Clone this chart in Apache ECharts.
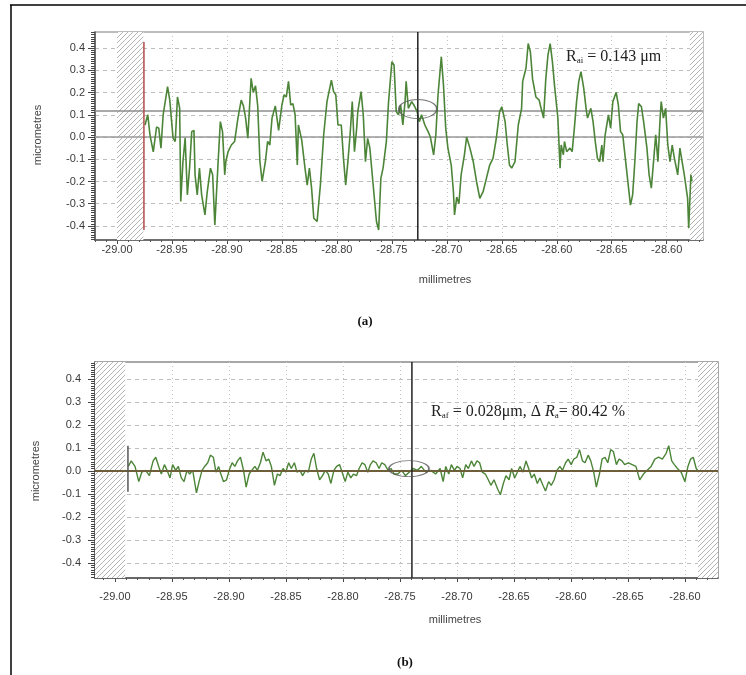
<!DOCTYPE html>
<html><head><meta charset="utf-8">
<script src="https://cdn.jsdelivr.net/npm/echarts/dist/echarts.min.js"></script>
<style>html,body{margin:0;padding:0;background:#fff}#c{width:746px;height:675px}</style>
</head><body><div id="c"></div>
<script>
// ---------- data ----------
const xTickValues = [-29.00, -28.95, -28.90, -28.85, -28.80, -28.75, -28.70, -28.65, -28.60, -28.55, -28.50];
const xTickLabels = ["-29.00","-28.95","-28.90","-28.85","-28.80","-28.75","-28.70","-28.65","-28.60","-28.65","-28.60"];
const yTickValues = [-0.4, -0.3, -0.2, -0.1, 0.0, 0.1, 0.2, 0.3, 0.4];
const yTickLabels = ["-0.4","-0.3","-0.2","-0.1","0.0","0.1","0.2","0.3","0.4"];

const rangeAx = [-29.02, -28.467];
const rangeAy = [-0.463, 0.472];
const rangeBx = [-29.0175, -28.471];
const rangeBy = [-0.465, 0.474];

const hatchA = [[-29.00, -28.976], [-28.479, -28.467]];
const hatchB = [[-29.0175, -28.991], [-28.4886, -28.471]];

// profile (a): [mm, micrometres]
const profileA = [
[-28.9745,0.054],[-28.972,0.10],[-28.970,0.01],[-28.967,-0.067],[-28.964,0.045],[-28.962,0.04],[-28.960,-0.05],[-28.958,0.10],[-28.954,0.226],[-28.952,0.166],
[-28.949,-0.005],[-28.947,-0.02],[-28.945,0.18],[-28.943,0.13],[-28.942,-0.29],[-28.940,-0.11],[-28.938,-0.005],[-28.936,-0.26],[-28.934,-0.14],[-28.932,0.024],
[-28.930,0.03],[-28.929,-0.17],[-28.927,-0.26],[-28.925,-0.14],[-28.923,-0.26],[-28.920,-0.35],[-28.918,-0.25],[-28.915,-0.14],[-28.913,-0.17],[-28.911,-0.395],
[-28.908,-0.11],[-28.906,0.069],[-28.904,0.024],[-28.902,-0.17],[-28.901,-0.11],[-28.899,-0.067],[-28.896,-0.036],[-28.893,-0.02],[-28.890,0.085],[-28.887,0.166],
[-28.885,0.14],[-28.883,0.085],[-28.881,-0.005],[-28.878,0.264],[-28.876,0.20],[-28.874,0.23],[-28.872,0.14],[-28.870,-0.11],[-28.868,-0.20],[-28.865,-0.11],
[-28.863,-0.02],[-28.861,-0.036],[-28.859,0.085],[-28.856,0.14],[-28.853,0.03],
[-28.850,0.144],[-28.848,0.19],[-28.846,0.18],[-28.844,0.25],[-28.842,0.144],[-28.840,0.15],[-28.838,0.10],[-28.836,-0.126],[-28.835,0.054],[-28.832,-0.013],
[-28.829,-0.14],[-28.827,-0.216],[-28.825,-0.14],[-28.823,-0.23],[-28.821,-0.365],[-28.818,-0.38],[-28.815,-0.216],[-28.812,0.01],[-28.809,0.159],[-28.805,0.256],
[-28.803,0.204],[-28.801,0.19],[-28.799,0.054],[-28.796,0.054],[-28.794,-0.096],[-28.792,-0.216],[-28.790,-0.111],[-28.788,0.01],[-28.786,0.159],[-28.784,-0.066],
[-28.782,0.039],[-28.781,0.114],[-28.778,0.204],[-28.776,0.10],[-28.774,-0.111],[-28.772,-0.006],[-28.770,-0.05],[-28.767,-0.216],[-28.764,-0.38],[-28.762,-0.418],
[-28.760,-0.186],[-28.758,-0.14],[-28.755,-0.021],[-28.753,0.159],[-28.750,0.338],[-28.748,0.324],[-28.746,0.114],[-28.744,0.10],[-28.742,0.144],[-28.740,0.054],
[-28.738,0.159],[-28.737,0.25],[-28.735,0.129],[-28.732,0.159],[-28.730,0.144],[-28.727,0.114],[-28.725,0.069],
[-28.723,0.10],[-28.720,0.054],[-28.717,0.024],[-28.715,0.0],[-28.712,-0.08],[-28.710,0.01],[-28.708,0.19],[-28.705,0.361],[-28.703,0.23],[-28.701,0.04],
[-28.699,-0.05],[-28.696,-0.126],[-28.694,-0.246],[-28.693,-0.35],[-28.691,-0.27],[-28.689,-0.30],[-28.687,-0.17],[-28.684,-0.08],[-28.682,0.0],[-28.679,-0.05],
[-28.676,-0.11],[-28.673,-0.20],[-28.670,-0.276],[-28.667,-0.246],[-28.664,-0.186],[-28.661,-0.126],[-28.658,-0.096],[-28.655,-0.006],[-28.652,0.114],[-28.650,0.136],
[-28.647,0.069],[-28.645,-0.036],[-28.643,-0.126],[-28.641,-0.14],[-28.638,-0.111],[-28.635,0.054],[-28.632,0.129],[-28.631,0.25],[-28.628,0.309],[-28.626,0.42],
[-28.624,0.383],[-28.622,0.26],[-28.619,0.18],[-28.616,0.166],[-28.615,0.144],[-28.612,0.085],[-28.610,0.26],[-28.608,0.369],[-28.606,0.42],[-28.604,0.34],
[-28.602,0.23],[-28.599,0.085],[-28.597,-0.14],
[-28.596,-0.036],[-28.594,-0.08],[-28.593,-0.02],[-28.591,-0.066],[-28.588,-0.05],[-28.586,-0.066],[-28.584,0.04],[-28.582,0.159],[-28.580,0.25],[-28.578,0.294],
[-28.5755,0.22],[-28.573,0.114],[-28.572,0.085],[-28.569,0.129],[-28.567,0.069],[-28.565,-0.02],[-28.563,-0.096],[-28.561,-0.111],[-28.559,-0.036],[-28.558,-0.111],
[-28.556,0.01],[-28.553,0.10],[-28.551,0.04],[-28.549,0.159],[-28.546,0.20],[-28.544,0.144],[-28.542,0.024],[-28.540,0.01],[-28.538,-0.08],[-28.535,-0.216],
[-28.533,-0.306],[-28.531,-0.26],[-28.529,-0.111],[-28.527,0.069],[-28.5255,0.15],[-28.523,0.136],[-28.521,0.069],[-28.518,-0.05],[-28.516,-0.17],[-28.514,-0.23],
[-28.512,-0.111],[-28.510,0.01],[-28.508,-0.111],[-28.506,0.085],[-28.505,0.159],[-28.503,0.085],[-28.501,0.129],[-28.499,-0.036],[-28.497,-0.111],[-28.495,-0.036],
[-28.493,-0.096],[-28.490,-0.17],[-28.488,-0.05],[-28.486,-0.111],[-28.484,-0.17],[-28.481,-0.276],[-28.480,-0.41],[-28.478,-0.17],[-28.477,-0.20]
];

// profile (b): [mm, micrometres]
const profileB = [
[-28.9883,0.02],[-28.9857,0.044],[-28.9824,0.02],[-28.9791,-0.046],[-28.9765,-0.005],[-28.9731,0.003],[-28.9698,-0.02],[-28.9665,0.044],[-28.9642,0.06],[-28.9616,0.02],
[-28.9593,-0.013],[-28.9566,0.028],[-28.9543,0.003],[-28.9517,-0.03],[-28.9494,0.028],[-28.9467,0.003],[-28.9444,0.02],[-28.9418,-0.03],[-28.9394,-0.046],[-28.9368,0.003],
[-28.9345,-0.013],[-28.9318,0.003],[-28.9285,-0.095],[-28.9262,-0.046],[-28.9236,0.003],[-28.9213,0.02],[-28.9186,0.036],[-28.9163,0.069],[-28.9137,0.06],[-28.9114,-0.005],
[-28.9091,0.02],[-28.9071,-0.013],[-28.9048,-0.046],[-28.9021,-0.038],[-28.8998,0.003],[-28.8972,0.036],[-28.8948,0.02],[-28.8925,0.044],[-28.8899,0.06],[-28.8872,0.003],
[-28.8849,-0.07],[-28.8823,-0.013],[-28.8800,0.003],[-28.8773,0.02],[-28.8750,0.003],[-28.8724,0.036],[-28.8701,0.082],[-28.8674,0.044],[-28.8651,0.052],[-28.8628,0.02],
[-28.8601,-0.062],[-28.8575,-0.013],[-28.8552,-0.02],[-28.8526,0.011],[-28.8502,-0.005],[-28.8476,0.036],[-28.8453,0.011],[-28.8426,0.036],[-28.8403,-0.005],[-28.8377,0.003],
[-28.8354,-0.02],[-28.8327,0.003],[-28.8304,-0.005],[-28.8278,0.052],[-28.8255,0.077],[-28.8231,0.011],[-28.8205,-0.038],[-28.8179,-0.02],[-28.8155,0.003],[-28.8129,-0.013],
[-28.8106,-0.054],[-28.8079,0.003],[-28.8056,0.02],[-28.8030,0.028],[-28.8007,-0.005],[-28.7980,-0.046],[-28.7957,-0.005],[-28.7931,-0.03],[-28.7908,-0.013],[-28.7881,-0.02],
[-28.7858,0.011],[-28.7832,0.036],[-28.7808,0.028],[-28.7782,-0.005],[-28.7759,0.028],[-28.7736,0.044],[-28.7709,0.036],[-28.7683,0.011],[-28.7660,0.036],[-28.7633,0.028],
[-28.7604,0.003],[-28.7577,0.011],[-28.7551,-0.013],[-28.7518,-0.013],[-28.7485,0.003],[-28.7452,-0.02],[-28.7419,-0.005],[-28.7386,0.011],[-28.7346,0.003],[-28.7313,0.02],
[-28.7273,-0.005],[-28.7230,0.003],[-28.7187,-0.013],[-28.7148,0.011],[-28.7121,-0.046],[-28.7098,0.02],[-28.7072,-0.013],[-28.7049,0.028],[-28.7022,0.003],[-28.6999,0.02],
[-28.6973,0.011],[-28.6950,-0.03],[-28.6923,0.028],[-28.6900,0.011],[-28.6873,0.044],[-28.6850,0.02],[-28.6824,0.044],[-28.6801,0.036],[-28.6778,-0.005],[-28.6751,-0.013],
[-28.6725,-0.038],[-28.6702,-0.062],[-28.6675,-0.038],[-28.6642,-0.079],[-28.6619,-0.103],[-28.6593,-0.054],[-28.6570,-0.02],[-28.6543,-0.038],[-28.6520,0.011],[-28.6494,-0.03],
[-28.6470,-0.005],[-28.6447,0.02],[-28.6421,-0.005],[-28.6394,0.044],[-28.6371,0.011],[-28.6345,-0.03],[-28.6322,-0.013],[-28.6295,-0.054],[-28.6272,-0.03],[-28.6246,-0.062],
[-28.6223,-0.087],[-28.6196,-0.046],[-28.6173,-0.062],[-28.6147,-0.038],[-28.6123,0.003],[-28.6097,0.02],[-28.6074,0.003],[-28.6047,0.036],[-28.6024,0.052],[-28.5998,0.028],
[-28.5975,0.052],[-28.5948,0.06],[-28.5925,0.093],[-28.5899,0.044],[-28.5876,0.036],[-28.5849,0.069],[-28.5826,0.044],[-28.5800,-0.005],[-28.5777,-0.07],[-28.5750,-0.013],
[-28.5727,0.052],[-28.5701,0.06],[-28.5677,0.036],[-28.5651,0.093],[-28.5628,0.085],[-28.5601,0.028],[-28.5578,0.052],[-28.5552,0.044],[-28.5529,0.028],[-28.5496,0.036],
[-28.5463,0.028],[-28.5430,0.02],[-28.5397,-0.038],[-28.5364,-0.013],[-28.5331,0.003],[-28.5297,0.02],[-28.5264,0.052],[-28.5231,0.06],[-28.5198,0.052],[-28.5165,0.077],
[-28.5142,0.11],[-28.5116,0.044],[-28.5093,0.028],[-28.5066,0.011],[-28.5033,-0.005],[-28.5000,-0.046],[-28.4974,0.02],[-28.4950,0.052],[-28.4927,0.06],[-28.4901,0.011],
[-28.4875,-0.005]
];

// reference / cursor lines
const meanLineA = 0.117;
const zeroLine = 0.0;
const startMarkA = [-28.9755, -0.418, 0.427];
const cursorA = -28.7264;
const cursorB = -28.7395;
const startMarkB = [-28.9886, -0.09, 0.11];
const ellipseA = [-28.7264, 0.126];
const ellipseB = [-28.7421, 0.01];

// ---------- helpers ----------
function hatchPattern() {
  const s = 5;
  const c = document.createElement('canvas');
  c.width = s; c.height = s;
  const g = c.getContext('2d');
  g.fillStyle = '#ffffff'; g.fillRect(0, 0, s, s);
  g.strokeStyle = '#b4b4b4'; g.lineWidth = 1;
  g.beginPath();
  g.moveTo(0, s); g.lineTo(s, 0);
  g.moveTo(-1, 1); g.lineTo(1, -1);
  g.moveTo(s - 1, s + 1); g.lineTo(s + 1, s - 1);
  g.stroke();
  return c;
}
const pattern = { image: hatchPattern(), repeat: 'repeat' };

const fmtX = v => { const i = xTickValues.findIndex(t => Math.abs(t - v) < 1e-6); return i >= 0 ? xTickLabels[i] : ''; };
const fmtY = v => { const i = yTickValues.findIndex(t => Math.abs(t - v) < 1e-6); return i >= 0 ? yTickLabels[i] : ''; };

function range(a, b, step) { const r = []; for (let i = Math.round(a / step); i <= Math.round(b / step); i++) r.push(+(i * step).toFixed(4)); return r; }
const minorXA = range(-29.02, -28.47, 0.01);
const minorXB = range(-29.01, -28.48, 0.01);
const minorY = range(-0.46, 0.47, 0.01);

const FONT = 'Liberation Sans, Arial, sans-serif';
const SERIF = 'Liberation Serif, Times New Roman, serif';

function mainX(grid, r, margin) {
  return { type: 'value', gridIndex: grid, min: r[0], max: r[1], position: 'bottom',
    axisLine: { show: true, onZero: false, lineStyle: { color: '#555', width: 1.5 } },
    axisTick: { show: true, customValues: xTickValues, length: 4, lineStyle: { color: '#444' } },
    axisLabel: { customValues: xTickValues, formatter: fmtX, margin: margin, color: '#3a3a3a', fontSize: 11, fontFamily: FONT },
    splitLine: { show: true, lineStyle: { color: '#c4c4c4', type: [1, 3], width: 1 } } };
}
function mainY(grid, r, margin) {
  return { type: 'value', gridIndex: grid, min: r[0], max: r[1], position: 'left',
    axisLine: { show: true, onZero: false, lineStyle: { color: '#555', width: 1.5 } },
    axisTick: { show: true, customValues: yTickValues, length: 7, lineStyle: { color: '#444' } },
    axisLabel: { customValues: yTickValues, formatter: fmtY, margin: margin, color: '#3a3a3a', fontSize: 11, fontFamily: FONT },
    splitLine: { show: true, lineStyle: { color: '#bdbdbd', type: [4, 4], width: 1 } } };
}
function minorXAxis(grid, r, vals) {
  return { type: 'value', gridIndex: grid, min: r[0], max: r[1], position: 'bottom',
    axisLine: { show: false, onZero: false }, axisLabel: { show: false }, splitLine: { show: false },
    axisTick: { show: true, customValues: vals, length: 2, lineStyle: { color: '#555' } } };
}
function minorYAxis(grid, r, vals) {
  return { type: 'value', gridIndex: grid, min: r[0], max: r[1], position: 'left',
    axisLine: { show: false, onZero: false }, axisLabel: { show: false }, splitLine: { show: false },
    axisTick: { show: true, customValues: vals, length: 4, lineStyle: { color: '#444' } } };
}

function seg(xi, yi, pts, color, width, z) {
  return { type: 'line', xAxisIndex: xi, yAxisIndex: yi, data: pts, symbol: 'none', silent: true,
    lineStyle: { color: color, width: width }, z: z || 4, animation: false };
}

const gridA = { left: 95, top: 32, width: 608, height: 208 };
const gridB = { left: 95, top: 362, width: 623, height: 216 };

const option = {
  animation: false,
  backgroundColor: '#fff',
  grid: [
    Object.assign({ show: true, borderColor: '#a8a8a8', borderWidth: 1.5, backgroundColor: 'transparent' }, gridA),
    Object.assign({ show: true, borderColor: '#8a8a8a', borderWidth: 1.5, backgroundColor: 'transparent' }, gridB),
    Object.assign({}, gridA),
    Object.assign({}, gridB)
  ],
  xAxis: [ mainX(0, rangeAx, 4), mainX(1, rangeBx, 13), minorXAxis(2, rangeAx, minorXA), minorXAxis(3, rangeBx, minorXB) ],
  yAxis: [ mainY(0, rangeAy, 10), mainY(1, rangeBy, 14), minorYAxis(2, rangeAy, minorY), minorYAxis(3, rangeBy, minorY) ],
  series: [
    { type: 'line', xAxisIndex: 0, yAxisIndex: 0, data: profileA, symbol: 'none', silent: true, z: 5,
      lineStyle: { color: '#4c8538', width: 1.6 },
      markArea: { silent: true, itemStyle: { color: pattern, borderWidth: 0 },
        data: hatchA.map(h => [{ xAxis: h[0] }, { xAxis: h[1] }]) } },
    seg(0, 0, [[rangeAx[0], meanLineA], [rangeAx[1], meanLineA]], '#8c8c8c', 1.5, 3),
    seg(0, 0, [[rangeAx[0], zeroLine], [rangeAx[1], zeroLine]], '#9a9a9a', 1.5, 3),
    seg(0, 0, [[startMarkA[0], startMarkA[1]], [startMarkA[0], startMarkA[2]]], '#b24a4a', 1.5, 6),
    seg(0, 0, [[cursorA, rangeAy[0]], [cursorA, rangeAy[1]]], '#222', 1.5, 6),
    { type: 'scatter', xAxisIndex: 0, yAxisIndex: 0, data: [ellipseA], symbol: 'circle', symbolSize: [38, 19], silent: true, z: 7,
      itemStyle: { color: 'rgba(0,0,0,0)', borderColor: '#555', borderWidth: 1.2 } },

    { type: 'line', xAxisIndex: 1, yAxisIndex: 1, data: profileB, symbol: 'none', silent: true, z: 5,
      lineStyle: { color: '#4c8538', width: 1.4 },
      markArea: { silent: true, itemStyle: { color: pattern, borderWidth: 0 },
        data: hatchB.map(h => [{ xAxis: h[0] }, { xAxis: h[1] }]) } },
    seg(1, 1, [[rangeBx[0], zeroLine], [rangeBx[1], zeroLine]], '#6e5f3a', 2, 6),
    seg(1, 1, [[startMarkB[0], startMarkB[1]], [startMarkB[0], startMarkB[2]]], '#555', 1.5, 6),
    seg(1, 1, [[cursorB, rangeBy[0]], [cursorB, rangeBy[1]]], '#222', 1.5, 6),
    { type: 'scatter', xAxisIndex: 1, yAxisIndex: 1, data: [ellipseB], symbol: 'circle', symbolSize: [40, 16], silent: true, z: 7,
      itemStyle: { color: 'rgba(0,0,0,0)', borderColor: '#555', borderWidth: 1.2 } }
  ],
  graphic: [
    { type: 'line', shape: { x1: 10, y1: 5, x2: 746, y2: 5 }, style: { stroke: '#000', lineWidth: 1.5 }, z: 100 },
    { type: 'line', shape: { x1: 11, y1: 5, x2: 11, y2: 675 }, style: { stroke: '#000', lineWidth: 1.5 }, z: 100 },
    { type: 'text', x: 38, y: 135, rotation: Math.PI / 2, style: { text: 'micrometres', fill: '#444', font: '11px ' + FONT, align: 'center', verticalAlign: 'middle' }, z: 100 },
    { type: 'text', x: 36, y: 471, rotation: Math.PI / 2, style: { text: 'micrometres', fill: '#444', font: '11px ' + FONT, align: 'center', verticalAlign: 'middle' }, z: 100 },
    { type: 'text', x: 445, y: 280, style: { text: 'millimetres', fill: '#444', font: '11px ' + FONT, align: 'center', verticalAlign: 'middle' }, z: 100 },
    { type: 'text', x: 455, y: 620, style: { text: 'millimetres', fill: '#444', font: '11px ' + FONT, align: 'center', verticalAlign: 'middle' }, z: 100 },
    { type: 'text', x: 566, y: 57, z: 100, style: { text: '{r|R}{s|ai}{t| = 0.143 μm}', align: 'left', verticalAlign: 'middle',
        rich: { r: { font: '16px ' + SERIF, fill: '#222' }, s: { font: '9px ' + SERIF, fill: '#222', padding: [8, 0, 0, 0] }, t: { font: '16px ' + SERIF, fill: '#222' } } } },
    { type: 'text', x: 431, y: 412, z: 100, style: { text: '{r|R}{s|af}{t| = 0.028μm, Δ }{i|R}{s|a}{t|= 80.42 %}', align: 'left', verticalAlign: 'middle',
        rich: { r: { font: '16px ' + SERIF, fill: '#222' }, i: { font: 'italic 16px ' + SERIF, fill: '#222' }, s: { font: '9px ' + SERIF, fill: '#222', padding: [8, 0, 0, 0] }, t: { font: '16px ' + SERIF, fill: '#222' } } } },
    { type: 'text', x: 365, y: 322, style: { text: '(a)', fill: '#111', font: 'bold 13px ' + SERIF, align: 'center', verticalAlign: 'middle' }, z: 100 },
    { type: 'text', x: 405, y: 663, style: { text: '(b)', fill: '#111', font: 'bold 13px ' + SERIF, align: 'center', verticalAlign: 'middle' }, z: 100 }
  ]
};

const chart = echarts.init(document.getElementById('c'), null, { renderer: 'canvas' });
chart.setOption(option);
</script></body></html>
